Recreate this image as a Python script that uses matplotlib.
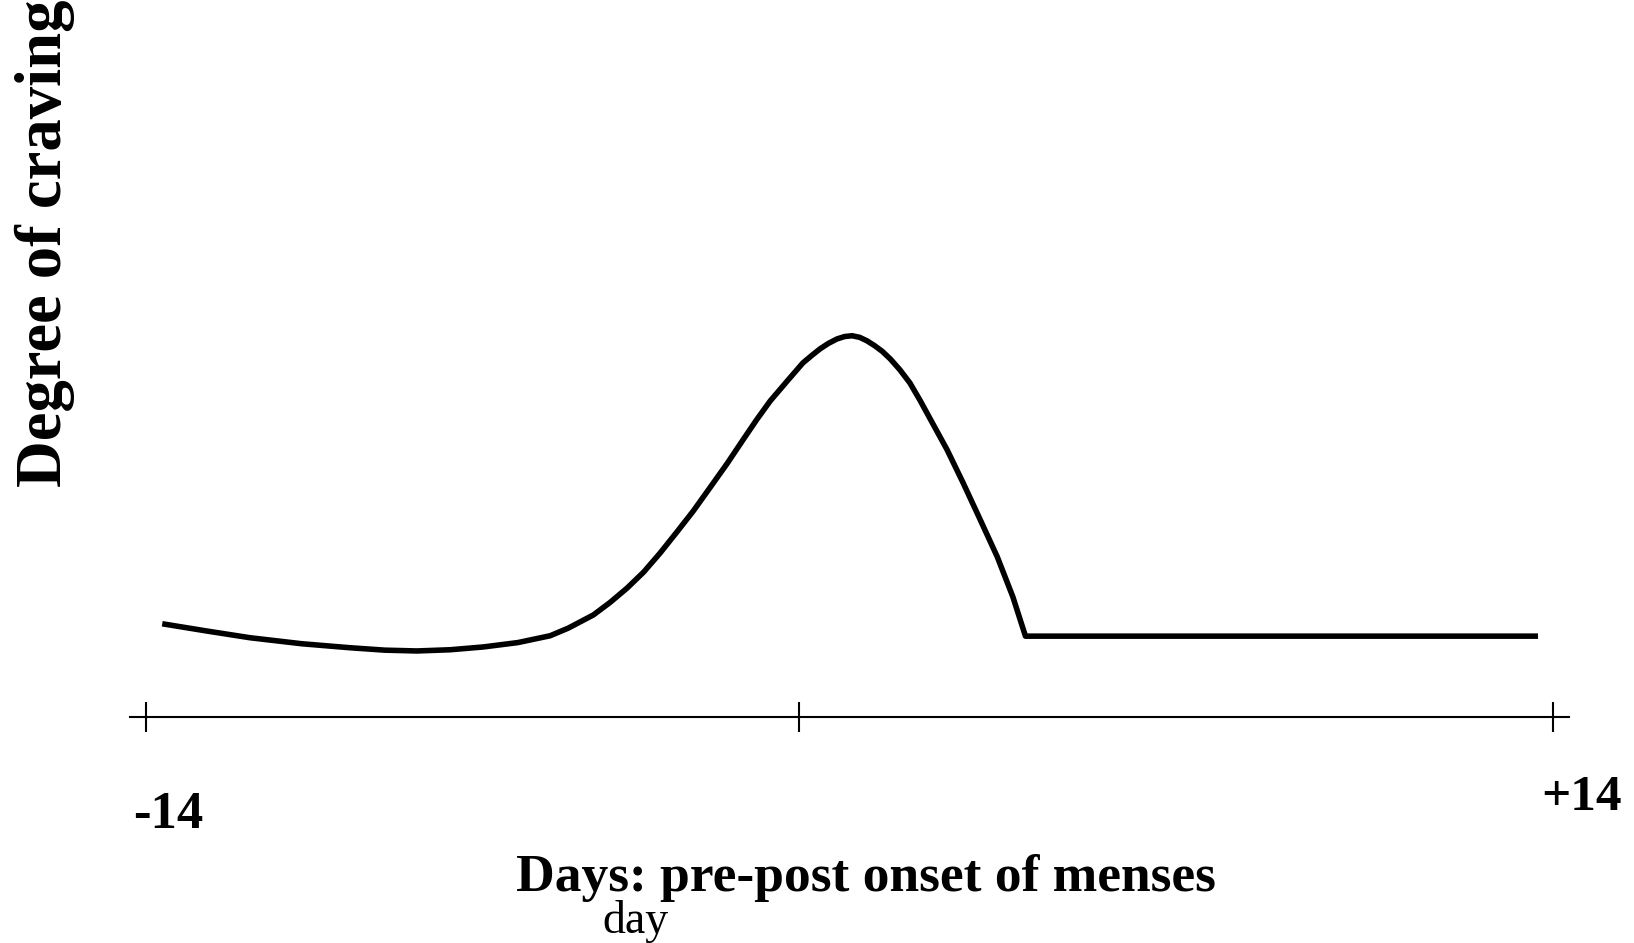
import matplotlib.pyplot as plt

# craving curve (day, degree)
days = [-13.68, -12.80, -11.93, -10.90, -9.94, -9.25, -8.61, -7.95, -7.29, -6.60,
        -5.96, -5.60, -5.10, -4.77, -4.43, -4.10, -3.77, -3.44, -3.11, -2.78,
        -2.44, -2.12, -1.85, -1.58, -1.24, -0.93, -0.75, -0.59, -0.42, -0.25,
        -0.10, 0.05, 0.20, 0.35, 0.50, 0.65, 0.81, 1.00, 1.20, 1.40,
        1.60, 1.94, 2.26, 2.60, 2.94, 3.25, 3.50, 13.70]
craving = [2.33, 2.15, 1.98, 1.83, 1.73, 1.67, 1.65, 1.68, 1.75, 1.86,
           2.03, 2.22, 2.55, 2.86, 3.22, 3.62, 4.10, 4.62, 5.15, 5.73,
           6.33, 6.93, 7.43, 7.90, 8.40, 8.85, 9.04, 9.20, 9.34, 9.45,
           9.51, 9.53, 9.49, 9.40, 9.28, 9.14, 8.95, 8.68, 8.35, 7.92,
           7.46, 6.68, 5.85, 4.93, 4.00, 3.00, 2.02, 2.02]

tick_days = [-14, -1, 14]

fig = plt.figure(figsize=(16.34, 9.43), dpi=100)
ax = fig.add_axes([0.0796, 0.2397, 0.8807, 0.4242])

ax.plot(days, craving, color='black', linewidth=4.0, clip_on=False,
        solid_capstyle='butt', solid_joinstyle='round')

ax.set_xlim(-14.32, 14.32)
ax.set_ylim(0, 10)
for s in ['top', 'left', 'right']:
    ax.spines[s].set_visible(False)
ax.spines['bottom'].set_linewidth(1.5)
ax.set_xticks(tick_days)
ax.set_xticklabels([])
ax.tick_params(axis='x', direction='inout', length=22, width=1.5)
ax.set_yticks([])

serif = 'Liberation Serif'
fig.text(0.1028, 0.122, '-14', ha='center', va='baseline', fontsize=38,
         fontweight='bold', family=serif)
fig.text(0.968, 0.141, '+14', ha='center', va='baseline', fontsize=37,
         fontweight='bold', family=serif)
fig.text(0.530, 0.0551, 'Days: pre-post onset of menses', ha='center',
         va='baseline', fontsize=38.5, fontweight='bold', family=serif)
fig.text(0.389, 0.0106, 'day', ha='center', va='baseline', fontsize=33,
         family=serif)
fig.text(0.0275, 0.742, 'Degree of craving', ha='center', va='center',
         rotation=90, fontsize=46.5, fontweight='bold', family=serif)

fig.savefig('out.png', dpi=100)
